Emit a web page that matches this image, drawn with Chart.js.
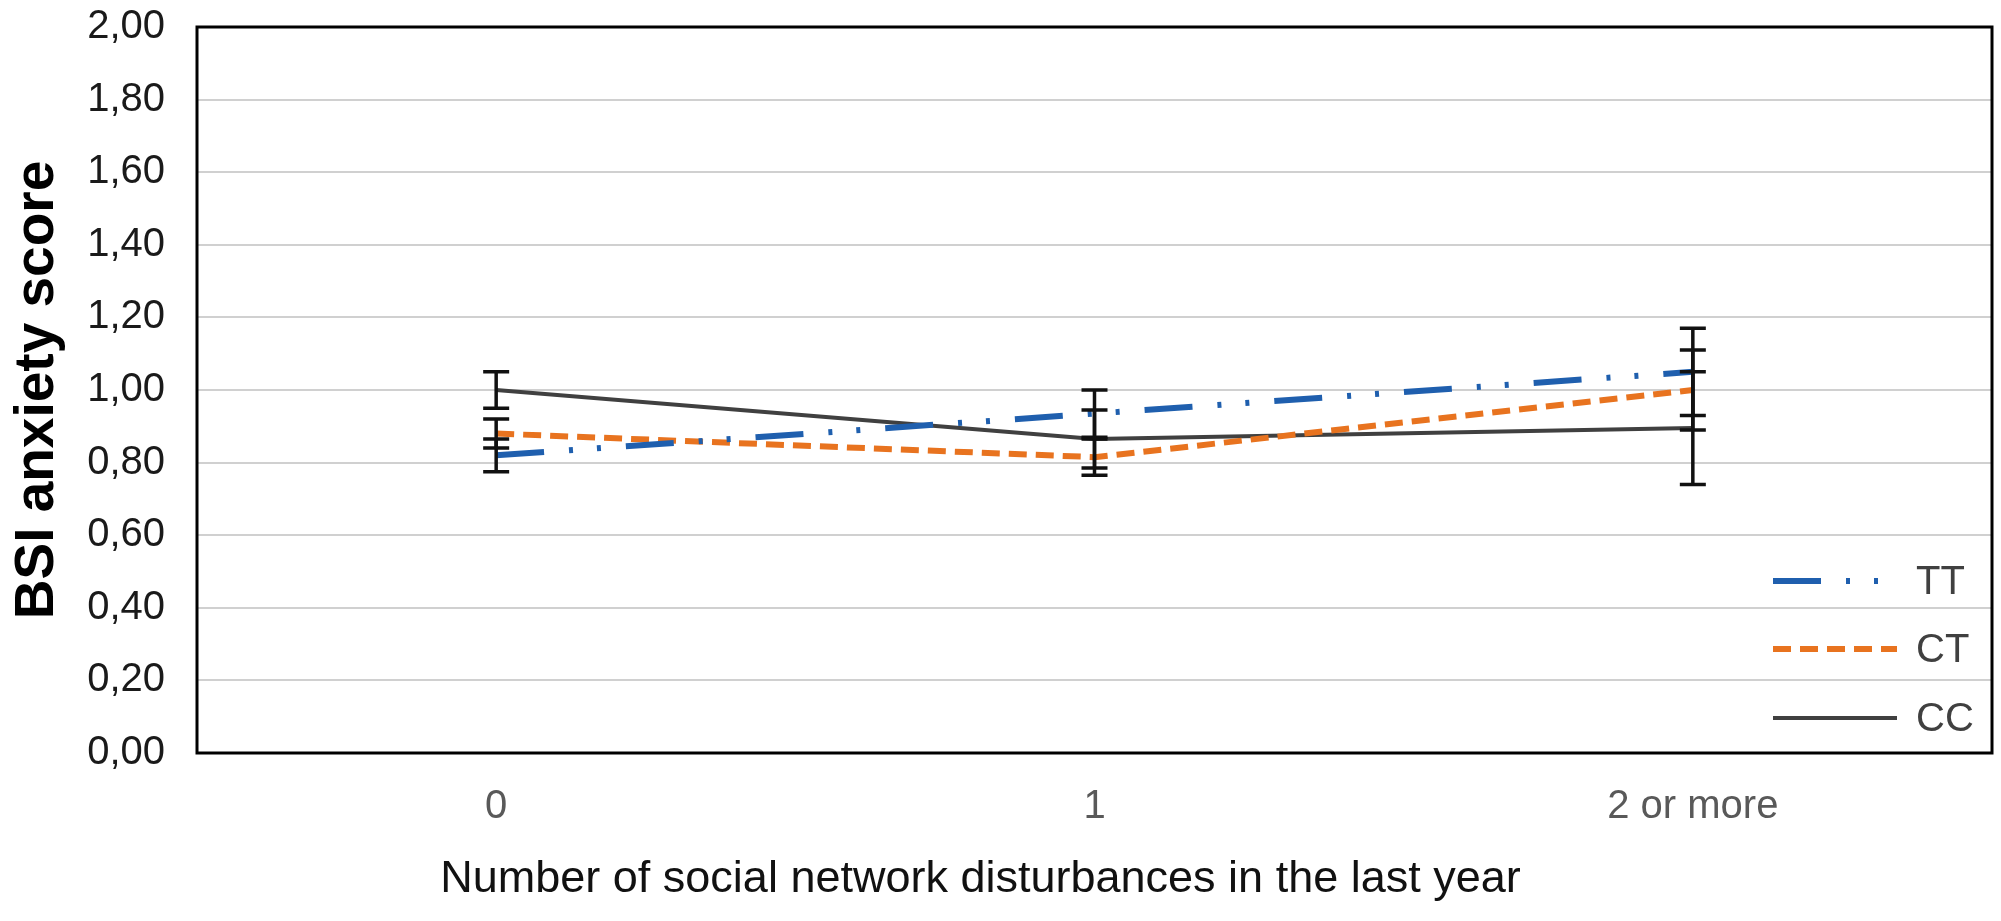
<!DOCTYPE html>
<html>
<head>
<meta charset="utf-8">
<script src="https://cdn.jsdelivr.net/npm/chart.js@4.4.1/dist/chart.umd.min.js"></script>
<style>
  html, body { margin: 0; padding: 0; background: #ffffff; }
  #wrap { width: 2001px; height: 921px; }
</style>
</head>
<body>
<div id="wrap"><canvas id="c" width="2001" height="921"></canvas></div>
<script>
// ---- data ----
const categories = ["0", "1", "2 or more"];
const seriesNames = ["TT", "CT", "CC"];
const ttValues = [0.82, 0.935, 1.05];
const ttErrors = [0.045, 0.065, 0.12];
const ctValues = [0.88, 0.815, 1.00];
const ctErrors = [0.04, 0.05, 0.11];
const ccValues = [1.00, 0.865, 0.895];
const ccErrors = [0.05, 0.08, 0.155];
const yTickMin = 0, yTickMax = 2, yTickStep = 0.2;
const xAxisTitle = "Number of social network disturbances in the last year";
const yAxisTitle = "BSI anxiety score";

const FONT = "'Liberation Sans', Arial, sans-serif";

const frameBox = {
  id: 'frameBox',
  beforeDatasetsDraw(chart) {
    const a = chart.chartArea, ctx = chart.ctx;
    ctx.save();
    ctx.strokeStyle = '#000000';
    ctx.lineWidth = 3;
    ctx.strokeRect(a.left, a.top, a.right - a.left, a.bottom - a.top);
    ctx.restore();
  }
};

const errorBars = {
  id: 'errorBars',
  afterDatasetsDraw(chart) {
    const ctx = chart.ctx, x = chart.scales.x, y = chart.scales.y;
    ctx.save();
    ctx.strokeStyle = '#111111';
    ctx.lineWidth = 3.5;
    chart.data.datasets.forEach(ds => {
      ds.data.forEach((v, i) => {
        const e = ds.errors[i];
        const px = x.getPixelForValue(i);
        const top = y.getPixelForValue(v + e), bot = y.getPixelForValue(v - e);
        ctx.beginPath();
        ctx.moveTo(px, top); ctx.lineTo(px, bot);
        ctx.moveTo(px - 13, top); ctx.lineTo(px + 13, top);
        ctx.moveTo(px - 13, bot); ctx.lineTo(px + 13, bot);
        ctx.stroke();
      });
    });
    ctx.restore();
  }
};

const innerLegend = {
  id: 'innerLegend',
  afterDraw(chart) {
    const a = chart.chartArea, ctx = chart.ctx;
    const offs = [172, 104, 35];
    ctx.save();
    chart.data.datasets.forEach((ds, i) => {
      const yy = a.bottom - offs[i];
      ctx.beginPath();
      ctx.strokeStyle = ds.borderColor;
      ctx.lineWidth = ds.borderWidth;
      ctx.setLineDash(ds.borderDash || []);
      ctx.moveTo(a.right - 219, yy);
      ctx.lineTo(a.right - 95, yy);
      ctx.stroke();
      ctx.setLineDash([]);
      ctx.fillStyle = '#404040';
      ctx.font = '40px ' + FONT;
      ctx.textAlign = 'left';
      ctx.textBaseline = 'middle';
      ctx.fillText(ds.label, a.right - 76, yy + 2);
    });
    ctx.restore();
  }
};

const bottomTitle = {
  id: 'bottomTitle',
  afterDraw(chart) {
    const ctx = chart.ctx;
    ctx.save();
    ctx.fillStyle = '#111111';
    ctx.font = '45px ' + FONT;
    ctx.textAlign = 'center';
    ctx.textBaseline = 'middle';
    ctx.fillText(xAxisTitle, chart.width / 2 - 20, 880);
    ctx.restore();
  }
};

new Chart(document.getElementById('c'), {
  type: 'line',
  data: {
    labels: categories,
    datasets: [
      { label: seriesNames[0], data: ttValues, errors: ttErrors, borderColor: '#1f5fae', borderWidth: 6, borderDash: [48, 25, 4, 24, 4, 25], pointRadius: 0, tension: 0, fill: false },
      { label: seriesNames[1], data: ctValues, errors: ctErrors, borderColor: '#e8731f', borderWidth: 6, borderDash: [18, 9], pointRadius: 0, tension: 0, fill: false },
      { label: seriesNames[2], data: ccValues, errors: ccErrors, borderColor: '#404040', borderWidth: 4, borderDash: [], pointRadius: 0, tension: 0, fill: false }
    ]
  },
  options: {
    responsive: false,
    animation: false,
    devicePixelRatio: 1,
    layout: { padding: { top: 27, right: 9, left: 0, bottom: 0 } },
    plugins: {
      legend: { display: false },
      tooltip: { enabled: false },
      title: { display: false }
    },
    scales: {
      x: {
        type: 'category',
        offset: true,
        grid: { display: false, drawTicks: false },
        border: { display: false },
        ticks: { color: '#595959', padding: 30, font: { family: FONT, size: 40 } },
        afterFit(scale) { scale.height = 168; }
      },
      y: {
        min: yTickMin,
        max: yTickMax,
        grid: { color: '#d0d0d0', lineWidth: 2, drawTicks: true, tickLength: 32, tickColor: 'rgba(0,0,0,0)' },
        border: { display: false },
        ticks: {
          stepSize: yTickStep,
          padding: 0,
          color: '#1a1a1a',
          font: { family: FONT, size: 40 },
          callback: v => Number(v).toFixed(2).replace('.', ',')
        },
        title: {
          display: true,
          text: yAxisTitle,
          color: '#000000',
          font: { family: FONT, size: 55, weight: 'bold', lineHeight: 1.2 },
          padding: { top: 5, bottom: 0 }
        },
        afterFit(scale) { scale.width = 197; }
      }
    }
  },
  plugins: [frameBox, errorBars, innerLegend, bottomTitle]
});
</script>
</body>
</html>
